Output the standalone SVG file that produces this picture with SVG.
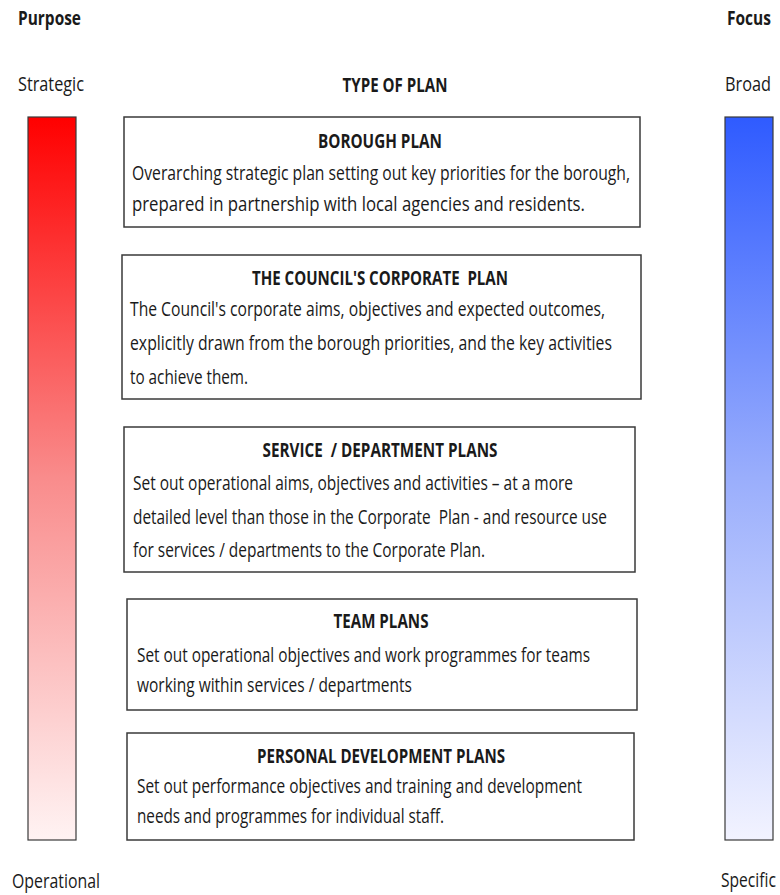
<svg xmlns="http://www.w3.org/2000/svg" width="780" height="895" viewBox="0 0 780 895">
  <defs>
    <linearGradient id="redScale" x1="0" y1="0" x2="0" y2="1">
      <stop offset="0" stop-color="#ff0000"/>
      <stop offset="0.5" stop-color="#f98c8c"/>
      <stop offset="1" stop-color="#fff3f3"/>
    </linearGradient>
    <linearGradient id="blueScale" x1="0" y1="0" x2="0" y2="1">
      <stop offset="0" stop-color="#2f5bff"/>
      <stop offset="0.5" stop-color="#9aaefc"/>
      <stop offset="1" stop-color="#f2f3ff"/>
    </linearGradient>
    <style>
      text { font-family: "Open Sans", "Liberation Sans", sans-serif; fill: #1a1a1a; }
      .head { font-size: 19px; font-weight: bold; }
      .label { font-size: 20px; }
      .title { font-size: 19px; font-weight: bold; text-anchor: middle; }
      .body { font-size: 20px; }
      .end { text-anchor: end; }
      .box { fill: #ffffff; stroke: #3a3a3a; stroke-width: 1.5; }
      .bar { stroke: #3a3a3a; stroke-width: 1.2; }
    </style>
  </defs>
  <rect width="780" height="895" fill="#ffffff"/>

  <!-- left scale: purpose -->
  <g id="purpose-scale">
    <text class="head" x="18" y="25" textLength="63" lengthAdjust="spacingAndGlyphs">Purpose</text>
    <text class="label" x="18" y="91" textLength="66" lengthAdjust="spacingAndGlyphs">Strategic</text>
    <rect class="bar" x="28" y="117" width="48" height="723" fill="url(#redScale)"/>
    <text class="label" x="12" y="888" textLength="88" lengthAdjust="spacingAndGlyphs">Operational</text>
  </g>
  <!-- right scale: focus -->
  <g id="focus-scale">
    <text class="head end" x="771" y="25" textLength="44" lengthAdjust="spacingAndGlyphs">Focus</text>
    <text class="label end" x="771" y="91" textLength="46" lengthAdjust="spacingAndGlyphs">Broad</text>
    <rect class="bar" x="725" y="117" width="48" height="723" fill="url(#blueScale)"/>
    <text class="label" transform="translate(721,887) scale(0.78,1)">Specific</text>
  </g>
  <text class="title" x="395" y="92" textLength="105" lengthAdjust="spacingAndGlyphs">TYPE OF PLAN</text>

  <!-- plan boxes -->
  <g id="borough-plan">
    <rect class="box" x="124" y="117" width="516" height="110"/>
    <text class="title" x="380" y="148" textLength="124" lengthAdjust="spacingAndGlyphs">BOROUGH PLAN</text>
    <text class="body" x="132" y="180" textLength="498" lengthAdjust="spacingAndGlyphs">Overarching strategic plan setting out key priorities for the borough,</text>
    <text class="body" x="132" y="211" textLength="453" lengthAdjust="spacingAndGlyphs">prepared in partnership with local agencies and residents.</text>
  </g>

  <g id="corporate-plan">
    <rect class="box" x="122" y="255" width="519" height="144"/>
    <text class="title" x="380" y="285" textLength="256" lengthAdjust="spacingAndGlyphs" xml:space="preserve">THE COUNCIL'S CORPORATE  PLAN</text>
    <text class="body" x="130" y="316" textLength="475" lengthAdjust="spacingAndGlyphs">The Council's corporate aims, objectives and expected outcomes,</text>
    <text class="body" x="130" y="350" textLength="482" lengthAdjust="spacingAndGlyphs">explicitly drawn from the borough priorities, and the key activities</text>
    <text class="body" x="130" y="384" textLength="118" lengthAdjust="spacingAndGlyphs">to achieve them.</text>
  </g>

  <g id="service-plans">
    <rect class="box" x="124" y="427" width="511" height="145"/>
    <text class="title" x="380" y="457" textLength="235" lengthAdjust="spacingAndGlyphs" xml:space="preserve">SERVICE  / DEPARTMENT PLANS</text>
    <text class="body" x="133" y="490" textLength="440" lengthAdjust="spacingAndGlyphs">Set out operational aims, objectives and activities – at a more</text>
    <text class="body" x="133" y="524" textLength="474" lengthAdjust="spacingAndGlyphs" xml:space="preserve">detailed level than those in the Corporate  Plan - and resource use</text>
    <text class="body" x="133" y="557" textLength="352" lengthAdjust="spacingAndGlyphs">for services / departments to the Corporate Plan.</text>
  </g>

  <g id="team-plans">
    <rect class="box" x="127" y="599" width="510" height="111"/>
    <text class="title" x="381" y="628" textLength="95" lengthAdjust="spacingAndGlyphs">TEAM PLANS</text>
    <text class="body" x="137" y="662" textLength="453" lengthAdjust="spacingAndGlyphs">Set out operational objectives and work programmes for teams</text>
    <text class="body" x="137" y="692" textLength="275" lengthAdjust="spacingAndGlyphs">working within services / departments</text>
  </g>

  <g id="personal-development-plans">
    <rect class="box" x="127" y="733" width="507" height="107"/>
    <text class="title" x="381" y="763" textLength="248" lengthAdjust="spacingAndGlyphs">PERSONAL DEVELOPMENT PLANS</text>
    <text class="body" x="137" y="793" textLength="445" lengthAdjust="spacingAndGlyphs">Set out performance objectives and training and development</text>
    <text class="body" x="137" y="823" textLength="307" lengthAdjust="spacingAndGlyphs">needs and programmes for individual staff.</text>
  </g>

  <!-- the plan boxes stand alone; there are no links between them -->
  <g id="connectors"/>
</svg>
